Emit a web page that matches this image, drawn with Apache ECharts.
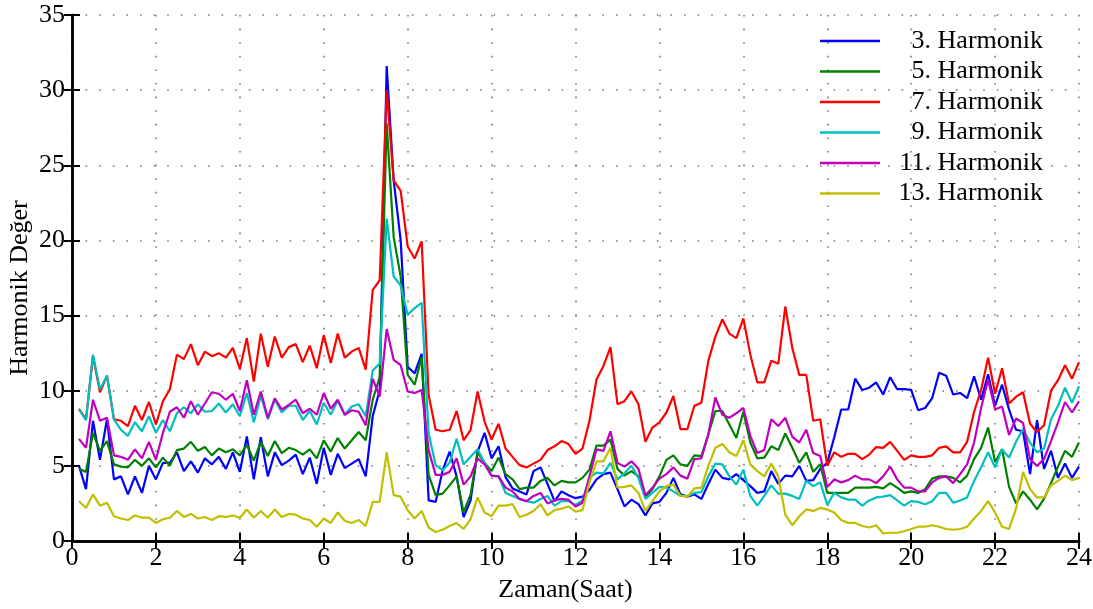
<!DOCTYPE html>
<html>
<head>
<meta charset="utf-8">
<script src="https://cdn.jsdelivr.net/npm/echarts@6/dist/echarts.min.js"></script>
<style>
  html, body { margin: 0; padding: 0; background: #fff; }
  #chart { width: 1093px; height: 609px; }
</style>
</head>
<body>
<div id="chart"></div>
<script>
// Harmonic levels sampled every 10 minutes over one day (144 samples)
const hours = Array.from({ length: 144 }, (_, i) => (i + 1) / 6);

const xTicks = [0, 2, 4, 6, 8, 10, 12, 14, 16, 18, 20, 22, 24];
const yTicks = [0, 5, 10, 15, 20, 25, 30, 35];

const seriesNames = ['3. Harmonik', '5. Harmonik', '7. Harmonik', '9. Harmonik', '11. Harmonik', '13. Harmonik'];

const h3 = [5.0, 3.45, 8.0, 5.4, 8.1, 4.1, 4.3, 3.1, 4.3, 3.2, 5.0, 4.1, 5.2, 5.2, 5.9, 4.65, 5.3, 4.55, 5.5,
  5.1, 5.6, 4.8, 5.9, 4.6, 6.95, 4.1, 6.9, 4.3, 5.9, 5.05, 5.35, 5.75, 4.45, 5.55, 3.8, 6.2, 4.4,
  5.8, 4.85, 5.15, 5.45, 4.3, 8.3, 10.05, 31.6, 24.0, 20.0, 11.6, 11.15, 12.45, 2.7, 2.6, 4.7, 5.95, 4.3,
  1.6, 2.7, 5.95, 7.2, 5.5, 6.3, 4.25, 3.5, 3.3, 3.1, 4.65, 4.9, 3.8, 2.65, 3.3, 3.05, 2.85,
  2.95, 3.4, 4.1, 4.45, 4.55, 3.45, 2.3, 2.75, 2.45, 1.7, 2.5, 2.6, 3.2, 4.2, 3.1, 2.95, 3.1, 2.8,
  3.8, 4.75, 4.2, 4.1, 4.45, 4.05, 3.65, 3.2, 3.3, 4.65, 3.8, 4.35, 4.3, 5.0, 4.0, 4.05, 4.8, 5.2,
  6.9, 8.75, 8.75, 10.8, 10.05, 10.2, 10.55, 9.75, 10.9, 10.1, 10.1, 10.05, 8.7, 8.85, 9.5, 11.2, 11.0, 9.75,
  9.85, 9.5, 10.95, 9.4, 11.1, 9.0, 10.4, 8.75, 7.4, 7.3, 4.45, 8.05, 4.8, 6.0, 4.2, 5.15, 4.2, 4.95];

const h5 = [4.8, 4.6, 7.2, 6.0, 6.65, 5.1, 4.95, 4.9, 5.4, 5.0, 5.5, 4.9, 5.55, 5.0, 6.05, 6.15, 6.6, 6.0, 6.25,
  5.7, 6.15, 5.9, 6.1, 5.7, 6.4, 5.35, 6.6, 5.65, 6.65, 5.85, 6.2, 6.05, 5.75, 6.1, 5.5, 6.7, 5.95,
  6.85, 6.15, 6.7, 7.25, 6.7, 9.4, 10.9, 27.8, 20.2, 17.6, 11.05, 10.4, 12.25, 4.4, 3.05, 3.15, 3.7, 4.3,
  1.9, 3.1, 5.9, 5.2, 4.65, 5.55, 4.45, 4.1, 3.45, 3.55, 3.55, 4.0, 4.2, 3.7, 4.0, 3.9, 3.9,
  4.2, 4.75, 6.35, 6.35, 6.75, 4.8, 4.35, 4.65, 4.3, 2.9, 3.45, 4.3, 5.4, 5.7, 5.1, 5.0, 5.7, 5.65,
  7.1, 8.65, 8.65, 7.75, 6.85, 8.6, 6.55, 5.5, 5.55, 6.3, 6.05, 7.15, 6.2, 5.2, 5.9, 4.6, 5.1, 3.2,
  3.2, 3.2, 3.2, 3.55, 3.55, 3.55, 3.6, 3.5, 3.85, 3.55, 3.2, 3.3, 3.2, 3.45, 4.15, 4.3, 4.3, 4.2,
  3.9, 4.35, 5.45, 6.2, 7.55, 5.25, 6.1, 3.6, 2.5, 3.3, 2.75, 2.1, 2.8, 3.85, 4.95, 6.0, 5.6, 6.55];

const h7 = [8.8, 8.1, 12.3, 9.9, 11.0, 8.1, 8.0, 7.65, 9.0, 8.05, 9.25, 7.75, 9.3, 10.1, 12.4, 12.1, 13.1, 11.7, 12.6,
  12.3, 12.5, 12.2, 12.85, 11.45, 13.5, 10.6, 13.8, 11.6, 13.6, 12.2, 12.9, 13.1, 11.9, 13.0, 11.5, 13.7, 11.85,
  13.8, 12.2, 12.6, 12.85, 11.4, 16.7, 17.35, 30.0, 24.0, 23.3, 19.6, 18.8, 19.95, 9.7, 7.4, 7.3, 7.4, 8.65,
  6.7, 7.4, 9.95, 7.95, 6.75, 7.8, 6.15, 5.6, 5.05, 4.9, 5.15, 5.4, 6.05, 6.3, 6.65, 6.45, 5.8,
  6.15, 8.0, 10.75, 11.65, 12.9, 9.1, 9.3, 9.95, 9.1, 6.6, 7.55, 7.9, 8.55, 9.65, 7.45, 7.45, 9.0, 9.2,
  12.0, 13.6, 14.75, 13.8, 13.5, 14.8, 12.4, 10.55, 10.55, 12.0, 11.8, 15.6, 12.85, 11.05, 11.05, 8.0, 8.1, 5.0,
  5.9, 5.6, 5.8, 5.8, 5.45, 5.75, 6.25, 6.2, 6.6, 6.0, 5.4, 5.7, 5.6, 5.6, 5.7, 6.2, 6.3, 5.9,
  5.9, 6.6, 8.6, 10.05, 12.2, 9.8, 11.5, 9.15, 9.6, 9.9, 7.8, 7.25, 7.7, 10.0, 10.7, 11.7, 10.8, 11.9];

const h9 = [8.75, 8.05, 12.4, 10.1, 11.0, 8.1, 7.4, 7.0, 7.9, 7.3, 8.3, 7.2, 8.05, 7.3, 8.5, 8.9, 8.5, 9.1, 8.6,
  8.65, 9.15, 8.55, 9.1, 8.3, 9.85, 7.9, 9.65, 8.1, 9.4, 8.55, 9.0, 9.0, 8.05, 8.65, 7.75, 9.2, 8.4,
  9.35, 8.4, 8.95, 9.1, 8.3, 11.35, 11.8, 21.45, 17.6, 17.0, 15.05, 15.5, 15.85, 7.15, 5.05, 4.7, 5.2, 6.8,
  5.1, 5.6, 6.1, 5.2, 4.35, 4.3, 3.2, 3.0, 2.8, 2.65, 2.55, 2.8, 3.0, 2.35, 2.65, 2.65, 2.4,
  2.7, 4.2, 4.55, 4.5, 5.2, 4.1, 4.5, 5.0, 4.2, 2.8, 3.2, 3.6, 3.55, 3.3, 3.0, 3.0, 3.2, 3.25,
  4.3, 5.15, 5.1, 4.3, 3.75, 4.75, 3.0, 2.35, 3.0, 3.7, 3.15, 3.15, 3.0, 2.8, 4.0, 3.65, 3.9, 2.4,
  3.2, 2.9, 2.75, 2.75, 2.35, 2.7, 2.9, 2.95, 3.05, 2.7, 2.35, 2.65, 2.6, 2.45, 2.65, 3.2, 3.2, 2.55,
  2.7, 2.9, 4.0, 4.9, 5.9, 4.9, 6.1, 5.55, 6.6, 7.45, 6.55, 5.9, 6.15, 8.1, 9.0, 10.2, 9.2, 10.3];

const h11 = [6.8, 6.2, 9.4, 8.0, 8.2, 5.7, 5.6, 5.4, 6.1, 5.5, 6.6, 5.4, 7.2, 8.6, 8.9, 8.2, 9.3, 8.4, 9.15,
  9.9, 9.8, 9.4, 9.8, 8.65, 10.7, 8.4, 9.95, 8.2, 9.5, 8.75, 9.05, 9.4, 8.5, 8.8, 8.4, 9.85, 8.8,
  9.4, 8.4, 8.7, 8.6, 7.7, 10.8, 9.6, 14.1, 12.05, 11.7, 9.95, 9.85, 10.05, 6.05, 4.4, 4.4, 4.6, 5.5,
  3.75, 4.3, 5.5, 5.1, 4.35, 4.3, 3.55, 3.3, 2.8, 2.65, 3.0, 3.2, 2.5, 2.7, 2.8, 2.75, 2.3,
  2.55, 4.3, 6.1, 6.0, 7.3, 5.2, 4.95, 5.3, 4.8, 3.05, 3.55, 4.15, 4.45, 4.9, 4.35, 4.15, 5.45, 5.5,
  7.1, 9.55, 8.4, 8.2, 8.5, 8.85, 7.0, 5.85, 6.05, 8.1, 7.65, 8.2, 6.95, 6.55, 7.4, 5.85, 5.65, 3.6,
  4.1, 3.9, 4.05, 4.35, 4.1, 4.1, 3.85, 4.3, 4.95, 4.1, 3.55, 3.55, 3.3, 3.3, 3.9, 4.2, 4.3, 3.85,
  4.45, 5.1, 6.55, 8.85, 10.75, 8.75, 8.95, 7.05, 8.15, 7.85, 5.45, 5.0, 5.45, 6.65, 7.9, 9.25, 8.55, 9.3];

const h13 = [2.65, 2.2, 3.1, 2.35, 2.55, 1.65, 1.5, 1.4, 1.7, 1.55, 1.55, 1.2, 1.45, 1.55, 2.0, 1.6, 1.8, 1.5, 1.6,
  1.4, 1.65, 1.6, 1.7, 1.55, 2.1, 1.55, 2.0, 1.55, 2.1, 1.6, 1.8, 1.75, 1.5, 1.4, 0.95, 1.5, 1.2,
  1.9, 1.35, 1.2, 1.4, 1.0, 2.6, 2.6, 5.9, 3.05, 2.95, 2.05, 1.5, 2.0, 0.9, 0.6, 0.75, 1.0, 1.2,
  0.8, 1.45, 2.9, 1.9, 1.65, 2.35, 2.35, 2.45, 1.6, 1.75, 2.0, 2.45, 1.7, 2.05, 2.15, 2.3, 1.95,
  2.05, 3.9, 5.3, 5.3, 6.2, 3.55, 3.6, 3.7, 3.2, 2.0, 2.65, 3.3, 3.65, 3.75, 3.0, 2.95, 3.5, 3.55,
  5.0, 6.2, 6.45, 5.9, 5.65, 6.7, 5.1, 4.65, 4.3, 5.15, 4.3, 1.75, 1.05, 1.65, 2.1, 2.0, 2.2, 2.1,
  1.9, 1.4, 1.2, 1.2, 1.0, 0.9, 1.05, 0.5, 0.55, 0.55, 0.65, 0.8, 0.95, 0.95, 1.05, 0.95, 0.8, 0.75,
  0.8, 0.95, 1.5, 2.0, 2.65, 1.9, 0.95, 0.8, 2.15, 4.6, 3.45, 2.9, 2.9, 3.7, 4.0, 4.35, 4.05, 4.2];

const seriesValues = [h3, h5, h7, h9, h11, h13];
const colors = ['#0000ff', '#008000', '#ff0000', '#00bfbf', '#bf00bf', '#bfbf00'];

const FONT = "'Liberation Serif', 'Times New Roman', serif";
const FS = 26;

const frameLine = { show: true, lineStyle: { color: '#000', width: 2.5 } };
const innerTick = { show: true, inside: true, length: 8, lineStyle: { color: '#000', width: 2 } };
const dotted = { show: true, lineStyle: { color: '#7a7a7a', width: 1.6, type: [1.6, 12] } };

const chart = echarts.init(document.getElementById('chart'), null, { renderer: 'canvas' });

chart.setOption({
  animation: false,
  backgroundColor: '#fff',
  textStyle: { fontFamily: FONT },
  grid: { left: 72, right: 14, top: 15, bottom: 68, containLabel: false, outerBoundsMode: 'none' },
  legend: {
    orient: 'vertical',
    left: 815,
    top: 23,
    itemWidth: 60,
    itemHeight: 2.5,
    itemGap: 4.5,
    icon: 'rect',
    data: seriesNames,
    formatter: name => '{n|' + name + '}',
    textStyle: {
      fontFamily: FONT, fontSize: FS, color: '#000',
      rich: { n: { fontFamily: FONT, fontSize: FS, color: '#000', width: 158, align: 'right', lineHeight: 26 } }
    }
  },
  xAxis: [
    {
      type: 'value', min: xTicks[0], max: xTicks[xTicks.length - 1], interval: 2, position: 'bottom',
      name: 'Zaman(Saat)', nameLocation: 'middle', nameGap: 36, nameMoveOverlap: false,
      nameTextStyle: { fontFamily: FONT, fontSize: FS, color: '#000', padding: [0, 20, 0, 0] },
      axisLine: frameLine, axisTick: innerTick,
      axisLabel: { fontFamily: FONT, fontSize: FS, color: '#000', margin: 4 },
      splitLine: dotted
    },
    {
      type: 'value', min: xTicks[0], max: xTicks[xTicks.length - 1], interval: 2, position: 'top',
      axisLine: frameLine, axisTick: innerTick, axisLabel: { show: false }, splitLine: { show: false }
    }
  ],
  yAxis: [
    {
      type: 'value', min: yTicks[0], max: yTicks[yTicks.length - 1], interval: 5, position: 'left',
      name: 'Harmonik Değer', nameLocation: 'middle', nameGap: 39, nameMoveOverlap: false,
      nameTextStyle: { fontFamily: FONT, fontSize: FS, color: '#000', padding: [0, 20, 0, 0] },
      axisLine: frameLine, axisTick: innerTick,
      axisLabel: { fontFamily: FONT, fontSize: FS, color: '#000', margin: 7 },
      splitLine: dotted
    },
    {
      type: 'value', min: yTicks[0], max: yTicks[yTicks.length - 1], interval: 5, position: 'right',
      axisLine: frameLine, axisTick: innerTick, axisLabel: { show: false }, splitLine: { show: false }
    }
  ],
  series: seriesNames.map((name, k) => ({
    name: name,
    type: 'line',
    xAxisIndex: 0,
    yAxisIndex: 0,
    showSymbol: false,
    symbol: 'none',
    color: colors[k],
    lineStyle: { color: colors[k], width: 2.2 },
    data: hours.map((t, i) => [t, seriesValues[k][i]])
  }))
});
</script>
</body>
</html>
